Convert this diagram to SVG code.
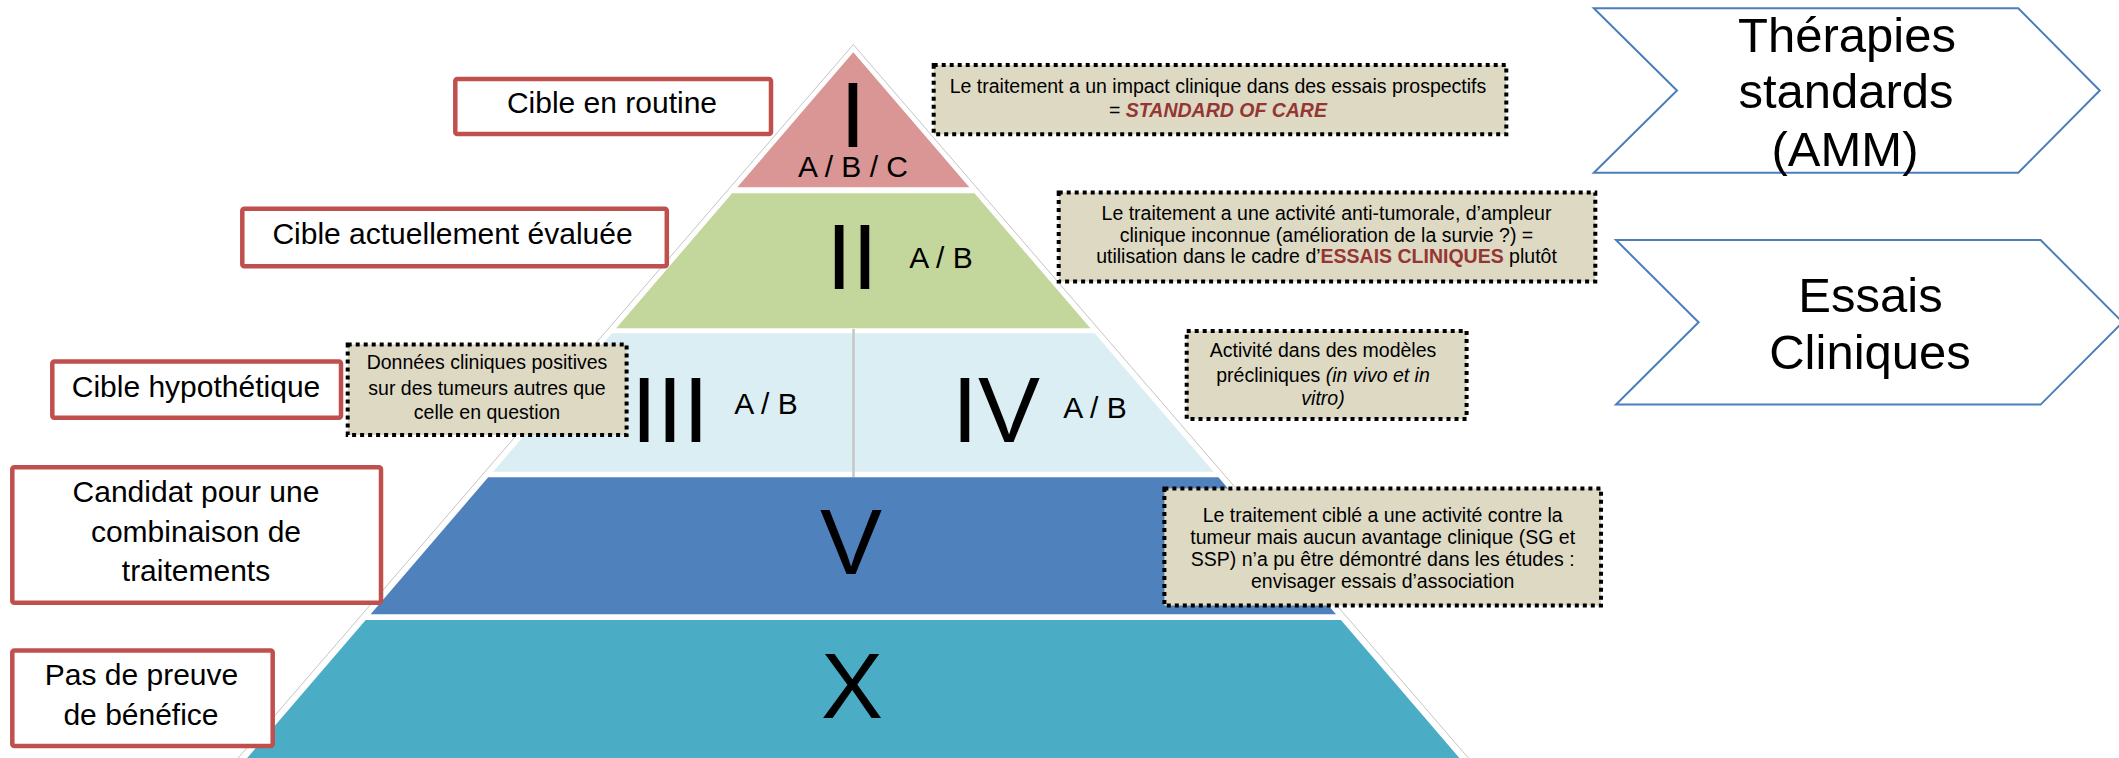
<svg xmlns="http://www.w3.org/2000/svg" width="2119" height="758" viewBox="0 0 2119 758">
<style>
.lbl{fill:#fff;stroke:#C0504D;stroke-width:4.5}
.lt{font-family:"Liberation Sans",Arial,sans-serif;font-size:30px;fill:#000;text-anchor:middle}
.note{fill:#DDD9C3;stroke:#000;stroke-width:4;stroke-dasharray:4 4}
.nt{font-family:"Liberation Sans",Arial,sans-serif;font-size:19.5px;fill:#000;text-anchor:middle}
.num{font-family:"Liberation Sans",Arial,sans-serif;font-size:93px;fill:#000;text-anchor:middle}
.ab{font-family:"Liberation Sans",Arial,sans-serif;font-size:30px;fill:#000;text-anchor:middle}
.chev{fill:#fff;stroke:#4A7EBB;stroke-width:2}
.ct{font-family:"Liberation Sans",Arial,sans-serif;font-size:49px;fill:#000;text-anchor:middle}
.red{fill:#943634;font-weight:bold}
</style>
<rect width="2119" height="758" fill="#fff"/>
<g id="pyramid">
  <polygon points="853.3,44.5 227.9,770 1478.7,770" fill="#fff" stroke="#c4c4c4" stroke-width="1"/>
  <g id="tier-I">
    <polygon points="853.3,52.2 737.3,187.3 969.3,187.3" fill="#D99694"/>
    <text class="num" x="853" y="147">I<tspan x="853" dy="30" font-size="30">A / B / C</tspan></text>
  </g>
  <g id="tier-II">
    <polygon points="732.1,193.3 974.5,193.3 1090.4,328.3 616.2,328.3" fill="#C3D69B"/>
    <text class="num" x="852" y="289">II</text>
    <text class="ab" x="941" y="268">A / B</text>
  </g>
  <g id="tier-III-IV">
    <polygon points="611.9,333.3 1094.7,333.3 1213.6,471.7 493,471.7" fill="#DBEEF4"/>
    <line x1="853.5" y1="329" x2="853.5" y2="477" stroke="#c6c6c6" stroke-width="2.5"/>
    <text class="num" x="670" y="442">III</text>
    <text class="ab" x="766" y="414">A / B</text>
    <text class="num" x="996" y="442">IV</text>
    <text class="ab" x="1095" y="418">A / B</text>
  </g>
  <g id="tier-V">
    <polygon points="488.2,477.3 1218.4,477.3 1336,614.3 370.6,614.3" fill="#4F81BD"/>
    <text class="num" x="851" y="574">V</text>
  </g>
  <g id="tier-X">
    <polygon points="365.7,620 1340.9,620 1469.7,770 236.9,770" fill="#4BACC6"/>
    <text class="num" x="852" y="718">X</text>
  </g>
</g>
<g id="labels">
  <g id="label-routine">
    <rect class="lbl" x="455.3" y="79" width="315.7" height="55" rx="2"/>
    <text class="lt" x="612" y="113">Cible en routine</text>
  </g>
  <g id="label-evaluee">
    <rect class="lbl" x="242.3" y="208.8" width="424.5" height="57.5" rx="2"/>
    <text class="lt" x="452.5" y="244.4">Cible actuellement évaluée</text>
  </g>
  <g id="label-hypothetique">
    <rect class="lbl" x="52.3" y="361.5" width="288.7" height="56.3" rx="2"/>
    <text class="lt" x="196" y="396.7">Cible hypothétique</text>
  </g>
  <g id="label-candidat">
    <rect class="lbl" x="12.3" y="467.3" width="368.7" height="135.5" rx="2"/>
    <text class="lt" x="196" y="501.7">Candidat pour une</text>
    <text class="lt" x="196" y="541.5">combinaison de</text>
    <text class="lt" x="196" y="580.7">traitements</text>
  </g>
  <g id="label-pas-de-preuve">
    <rect class="lbl" x="12.3" y="650.6" width="260.4" height="95.4" rx="2"/>
    <text class="lt" x="141.5" y="685">Pas de preuve</text>
    <text class="lt" x="141" y="725">de bénéfice</text>
  </g>
</g>
<g id="notes">
  <g id="note-I">
    <rect class="note" x="933.7" y="65" width="572.6" height="69.3"/>
    <text class="nt" x="1218" y="93">Le traitement a un impact clinique dans des essais prospectifs</text>
    <text class="nt" x="1218" y="117">= <tspan class="red" font-style="italic">STANDARD OF CARE</tspan></text>
  </g>
  <g id="note-II">
    <rect class="note" x="1058.7" y="192.4" width="536.6" height="89.2"/>
    <text class="nt" x="1326.5" y="220">Le traitement  a une activité anti-tumorale, d’ampleur</text>
    <text class="nt" x="1326.5" y="241.7">clinique inconnue (amélioration de la survie ?) =</text>
    <text class="nt" x="1326.5" y="263.4">utilisation dans le cadre d’<tspan class="red">ESSAIS CLINIQUES</tspan> plutôt</text>
  </g>
  <g id="note-III">
    <rect class="note" x="347.7" y="344.4" width="278.9" height="90.6"/>
    <text class="nt" x="487" y="369">Données cliniques positives</text>
    <text class="nt" x="487" y="395">sur des tumeurs autres que</text>
    <text class="nt" x="487" y="419">celle en question</text>
  </g>
  <g id="note-IV">
    <rect class="note" x="1186.7" y="331" width="279.9" height="88"/>
    <text class="nt" x="1323" y="356.7">Activité dans des modèles</text>
    <text class="nt" x="1323" y="381.7">précliniques <tspan font-style="italic">(in vivo et in</tspan></text>
    <text class="nt" x="1323" y="405" font-style="italic">vitro)</text>
  </g>
  <g id="note-V">
    <rect class="note" x="1164.4" y="488.4" width="436.6" height="117.2"/>
    <text class="nt" x="1382.7" y="521.5">Le traitement ciblé a une activité contre la</text>
    <text class="nt" x="1382.7" y="543.8">tumeur mais aucun avantage clinique (SG et</text>
    <text class="nt" x="1382.7" y="566">SSP) n’a pu être démontré dans les études :</text>
    <text class="nt" x="1382.7" y="588.3">envisager essais d’association</text>
  </g>
</g>
<g id="chevrons">
  <g id="chevron-standards">
    <polygon class="chev" points="1593.8,8.3 2018.3,8.3 2099.8,90.5 2018.3,172.7 1593.8,172.7 1677,90.5"/>
    <text class="ct" x="1847" y="51.7">Thérapies</text>
    <text class="ct" x="1846" y="108.3">standards</text>
    <text class="ct" x="1845" y="165.7">(AMM)</text>
  </g>
  <g id="chevron-essais">
    <polygon class="chev" points="1616,240 2040.6,240 2122.6,322.3 2040.6,404.6 1616,404.6 1698.6,322.3"/>
    <text class="ct" x="1870.5" y="311.7">Essais</text>
    <text class="ct" x="1870" y="368.5">Cliniques</text>
  </g>
</g>
</svg>
